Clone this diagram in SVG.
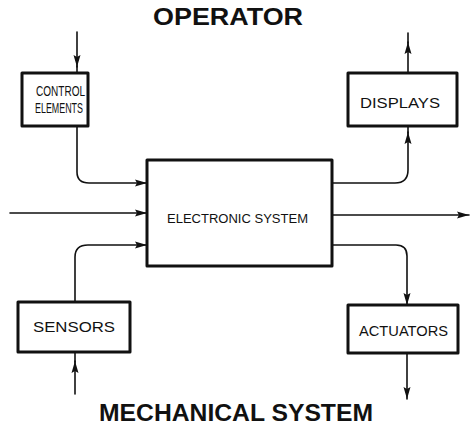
<svg xmlns="http://www.w3.org/2000/svg" width="470" height="428" viewBox="0 0 470 428">
<defs>
<style>
.box{fill:#fff;stroke:#111;stroke-width:3;stroke-linejoin:round}
.ln{fill:none;stroke:#111;stroke-width:1.6;stroke-linecap:round}
.t{font-family:"Liberation Sans",Arial,sans-serif;fill:#111;text-anchor:start}
.big{font-size:23px;font-weight:bold}
.lab{font-size:13px}
</style>
<marker id="ah" viewBox="0 0 12 8" refX="12" refY="4" markerWidth="12" markerHeight="8" markerUnits="userSpaceOnUse" orient="auto">
<path d="M0,0.5 L12,4 L0,7.5 L2,4 Z" fill="#111"/>
</marker>
</defs>
<rect width="470" height="428" fill="#fff"/>
<g id="connectors">
<path class="ln" d="M77,32 L77,67" marker-end="url(#ah)"/>
<path class="ln" d="M77,66 L77,73"/>
<path class="ln" d="M77,126 L77,172 Q77,183 89,183 L147,183" marker-end="url(#ah)"/>
<path class="ln" d="M10,213 L147,213" marker-end="url(#ah)"/>
<path class="ln" d="M75,302 L75,257 Q75,245 88,245 L147,245" marker-end="url(#ah)"/>
<path class="ln" d="M75,394 L75,361" marker-end="url(#ah)"/>
<path class="ln" d="M75,362 L75,352"/>
<path class="ln" d="M332,183 L395,183 Q408,183 408,170 L408,132" marker-end="url(#ah)"/>
<path class="ln" d="M408,133 L408,126"/>
<path class="ln" d="M408,73 L408,42" marker-end="url(#ah)"/>
<path class="ln" d="M408,43 L408,33"/>
<path class="ln" d="M332,215 L469,215" marker-end="url(#ah)"/>
<path class="ln" d="M332,245 L396,245 Q407,245 407,256 L407,305" marker-end="url(#ah)"/>
<path class="ln" d="M407,353 L407,399" marker-end="url(#ah)"/>
</g>
<g id="operator">
<text class="t big" x="153" y="25" textLength="150" lengthAdjust="spacingAndGlyphs">OPERATOR</text>
</g>
<g id="mechanical-system">
<text class="t big" x="99" y="421" style="font-size:24px" textLength="274" lengthAdjust="spacingAndGlyphs">MECHANICAL  SYSTEM</text>
</g>
<g id="control-elements">
<rect class="box" x="22" y="73" width="66" height="53"/>
<text class="t lab" x="36" y="96" style="font-size:14px" textLength="49" lengthAdjust="spacingAndGlyphs">CONTROL</text>
<text class="t lab" x="35" y="113" style="font-size:14px" textLength="48" lengthAdjust="spacingAndGlyphs">ELEMENTS</text>
</g>
<g id="displays">
<rect class="box" x="348" y="73" width="109" height="53"/>
<text class="t lab" x="360" y="108" style="font-size:15px" textLength="80" lengthAdjust="spacingAndGlyphs">DISPLAYS</text>
</g>
<g id="electronic-system">
<rect class="box" x="147" y="160" width="185" height="106"/>
<text class="t lab" x="167" y="223" style="font-size:12px" textLength="141" lengthAdjust="spacingAndGlyphs">ELECTRONIC SYSTEM</text>
</g>
<g id="sensors">
<rect class="box" x="18" y="302" width="112" height="50"/>
<text class="t lab" x="33" y="332" style="font-size:15px" textLength="82" lengthAdjust="spacingAndGlyphs">SENSORS</text>
</g>
<g id="actuators">
<rect class="box" x="348" y="305" width="110" height="48"/>
<text class="t lab" x="359" y="336" style="font-size:15px" textLength="89" lengthAdjust="spacingAndGlyphs">ACTUATORS</text>
</g>
</svg>
